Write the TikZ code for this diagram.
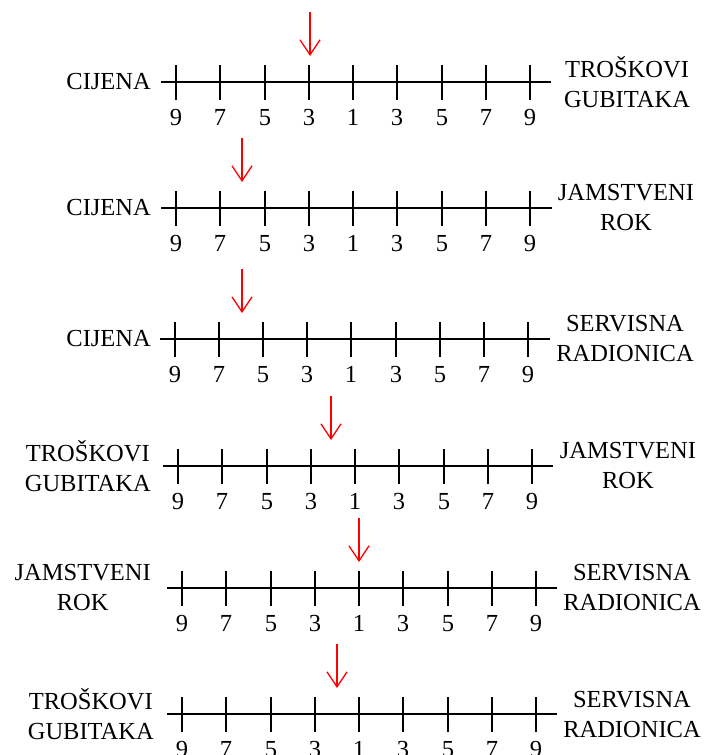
\documentclass[tikz,border=0pt]{standalone}
\usepackage{fontspec}
\setmainfont{Liberation Serif}
\usetikzlibrary{arrows.meta}

\begin{document}
\begin{tikzpicture}[
  x=1pt, y=-1pt,
  scaleline/.style={line width=1.8pt},
  tickmark/.style={line width=1.8pt},
  lbl/.style={align=center, font=\fontsize{24.5}{30}\selectfont, inner sep=0pt},
  num/.style={font=\fontsize{24.5}{30}\selectfont, inner sep=0pt, anchor=base},
  pick/.style={red, line width=1.3pt, -{Straight Barb[length=15pt, width=20pt]}},
]

\useasboundingbox (0,0) rectangle (707,755);

% ---------- Paired comparison scales ----------
% row / axis y / line from / line to / first tick / tick step / arrow x / left text / left edge / right text / right centre
\foreach \r/\y/\xa/\xb/\xt/\dx/\ax/\lt/\lx/\rt/\rx in {
  1/82/161/551/176/44.25/310/{CIJENA}/151/{TROŠKOVI\\GUBITAKA}/627,
  2/208/161/552/176/44.25/242/{CIJENA}/151/{JAMSTVENI\\ROK}/626,
  3/339/160/550/175/44.1/242/{CIJENA}/151/{SERVISNA\\RADIONICA}/625,
  4/466/163/553/178/44.25/331/{TROŠKOVI\\GUBITAKA}/151/{JAMSTVENI\\ROK}/628,
  5/588/167/557/182/44.25/359/{JAMSTVENI\\ROK}/151/{SERVISNA\\RADIONICA}/632,
  6/714/167/557/182/44.25/337/{TROŠKOVI\\GUBITAKA}/154/{SERVISNA\\RADIONICA}/632}
{
  \coordinate (a\r) at (\xa,\y);
  \coordinate (b\r) at (\xb,\y);
  \draw[scaleline] (a\r) -- (b\r);
  \foreach \k/\v in {0/9,1/7,2/5,3/3,4/1,5/3,6/5,7/7,8/9} {
    \pgfmathsetmacro{\tx}{round(\xt+\k*\dx)}
    \draw[tickmark] (\tx,\y-17) -- (\tx,\y+18);
    \node[num] (n\r\k) at (\tx,\y+43) {\v};
  }
  \node[lbl, anchor=east] (left\r) at (\lx,\y) {\lt};
  \node[lbl] (right\r) at (\rx,\y) {\rt};
  % chosen point
  \coordinate (top\r) at (\ax,\y-70);
  \coordinate (tip\r) at (\ax,\y-26);
  \draw[pick] (top\r) -- (tip\r);
}

\end{tikzpicture}
\end{document}
